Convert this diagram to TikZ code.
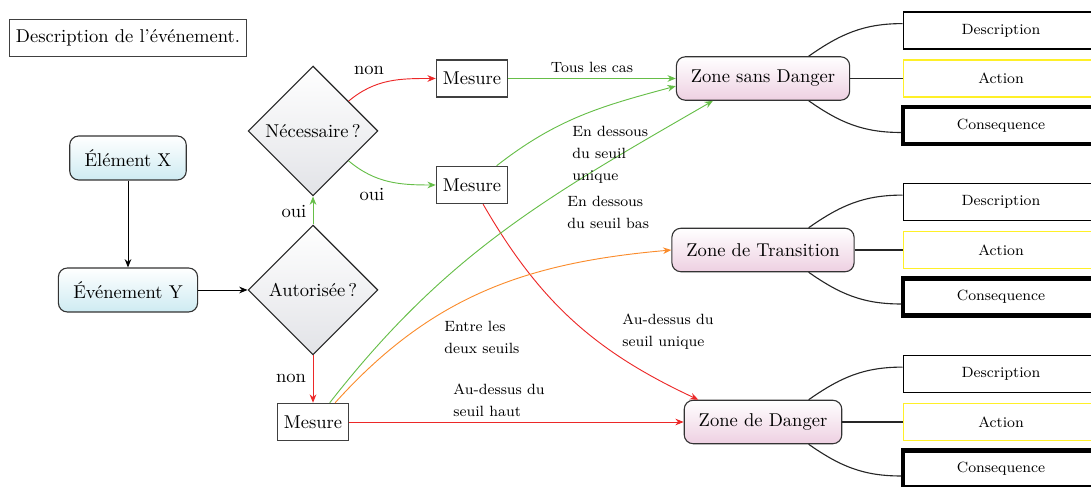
\documentclass[tikz,border=0pt]{standalone}
\usetikzlibrary{shapes.geometric,arrows.meta}
\definecolor{cred}{RGB}{236,40,40}
\definecolor{cgreen}{RGB}{102,190,72}
\definecolor{corange}{RGB}{250,140,45}
\definecolor{cyel}{RGB}{255,240,40}
\definecolor{blueb}{RGB}{206,235,242}
\definecolor{pinkb}{RGB}{238,208,226}
\definecolor{grayb}{RGB}{226,227,231}
\begin{document}
\begin{tikzpicture}[x=0.539pt,y=0.539pt,
  plainbox/.style={draw=black!75, line width=0.8pt, minimum height=19.95pt, inner xsep=3.4pt},
  startbox/.style={draw=black!80, line width=0.6pt, rounded corners=4.8pt, top color=white, bottom color=blueb, minimum height=23.7pt, inner xsep=8pt},
  zonebox/.style={draw=black!80, line width=0.6pt, rounded corners=4.8pt, top color=white, bottom color=pinkb, minimum height=23.4pt, inner xsep=7.8pt},
  decision/.style={diamond, aspect=1, draw=black!85, line width=0.6pt, top color=white, bottom color=grayb, minimum width=70pt, minimum height=70pt, inner sep=0pt},
  infobox/.style={draw=black, line width=0.6pt, minimum width=105.6pt, minimum height=19.95pt, font=\footnotesize},
  actbox/.style={infobox, draw=cyel},
  consbox/.style={infobox, line width=2.2pt},
  arr/.style={-{Stealth[length=4.5pt,width=3.6pt]}, line width=0.5pt},
  link/.style={line width=0.6pt, draw=black!85},
  lbl/.style={font=\fontsize{8}{11.9}\selectfont, align=left, inner sep=0pt},
  blbl/.style={inner sep=0pt}]
\useasboundingbox (0,0) rectangle (1091,487);
\clip (0,0) rectangle (1091,487);

% main nodes
\node[plainbox] (evt) at (128,449) {Description de l'événement.};
\node[startbox] (ex) at (128,329) {Élément X};
\node[startbox] (ey) at (128,197) {Événement Y};
\node[decision] (aut) at (313,197) {Autorisée\,?};
\node[decision] (nec) at (313,356) {Nécessaire\,?};
\node[plainbox] (m1) at (472,408.5) {Mesure};
\node[plainbox] (m2) at (472,302) {Mesure};
\node[plainbox] (m3) at (313,65) {Mesure};
\node[zonebox] (zsd) at (763,408.5) {Zone sans Danger};
\node[zonebox] (zt) at (763,237) {Zone de Transition};
\node[zonebox] (zd) at (763,65) {Zone de Danger};

% right boxes
\node[infobox] (zsd-d) at (1001,456.5) {Description};
\node[actbox]  (zsd-a) at (1001,408.5) {Action};
\node[consbox] (zsd-c) at (1001,361.5) {Consequence};
\node[infobox] (zt-d) at (1001,285) {Description};
\node[actbox]  (zt-a) at (1001,237) {Action};
\node[consbox] (zt-c) at (1001,190) {Consequence};
\node[infobox] (zd-d) at (1001,113) {Description};
\node[actbox]  (zd-a) at (1001,65) {Action};
\node[consbox] (zd-c) at (1001,18) {Consequence};

% connectors
\draw[arr] (ex) -- (ey);
\draw[arr] (ey) -- (aut);
\draw[arr, cgreen] (aut) -- (nec);
\draw[arr, cred] (aut) -- (m3);
\draw[arr, cred] (nec) to[out=40,in=180] (m1);
\draw[arr, cgreen] (nec) to[out=-40,in=180] (m2);
\draw[arr, cgreen] (m1) -- (zsd);
\draw[arr, cgreen] (m2) to[out=38,in=195] (zsd.185);
\draw[arr, cred] (m2) to[out=-60,in=155] (zd.161);
\draw[arr, cgreen] (m3.49) to[out=52,in=210] (zsd.204);
\draw[arr, corange] (m3.41) to[out=48,in=185] (zt.west);
\draw[arr, cred] (m3) -- (zd);

\foreach \z in {zsd,zt,zd}{
  \draw[link] (\z.26) to[out=35,in=180] (\z-d.176);
  \draw[link] (\z) -- (\z-a);
  \draw[link] (\z.-26) to[out=-35,in=180] (\z-c.184);
}

% labels
\node[lbl] (l-tous) at (592,420) {Tous les cas};
\node[blbl] (l-non1) at (369,417) {non};
\node[blbl] (l-oui1) at (372,292) {oui};
\node[blbl] (l-oui2) at (294,275) {oui};
\node[blbl] (l-non2) at (291,109) {non};
\node[lbl, anchor=west] (l-eds) at (572,332) {En dessous\\du seuil\\unique};
\node[lbl, anchor=west] (l-edb) at (567,275) {En dessous\\du seuil bas};
\node[lbl, anchor=west] (l-entre) at (444,150) {Entre les\\deux seuils};
\node[lbl, anchor=west] (l-adu) at (622,155) {Au-dessus du\\seuil unique};
\node[lbl, anchor=west] (l-adh) at (453,87) {Au-dessus du\\seuil haut};
\end{tikzpicture}
\end{document}
